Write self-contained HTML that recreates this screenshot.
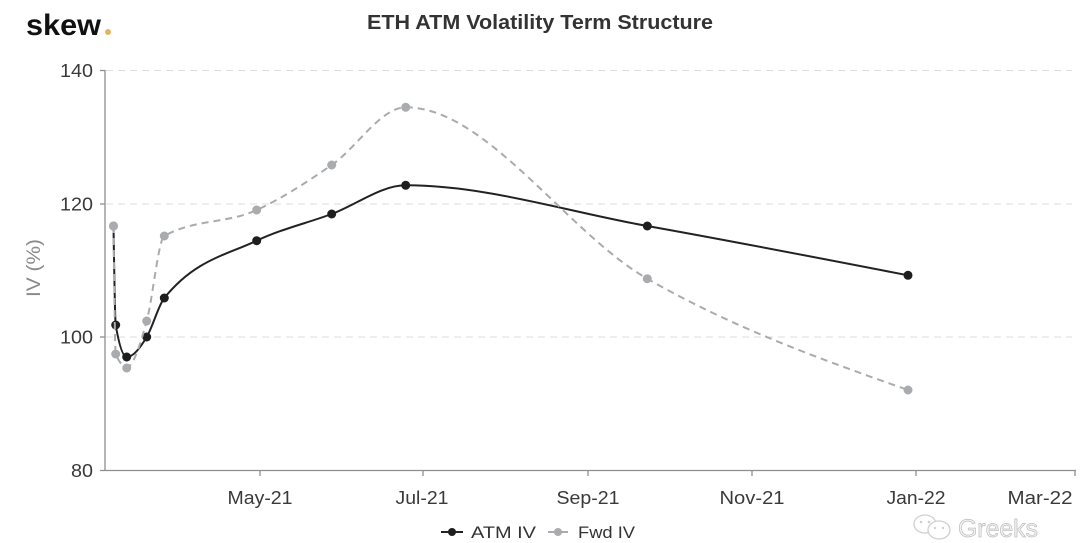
<!DOCTYPE html>
<html>
<head>
<meta charset="utf-8">
<style>
html,body{margin:0;padding:0;background:#fff;}
svg{display:block;}
</style>
</head>
<body>
<svg width="1080" height="543" viewBox="0 0 1080 543" xmlns="http://www.w3.org/2000/svg" font-family="'Liberation Sans', sans-serif">
  <rect width="1080" height="543" fill="#fff"/>
  <!-- logo -->
  <text x="26" y="35" font-size="30" font-weight="bold" fill="#111" textLength="75" lengthAdjust="spacingAndGlyphs">skew</text>
  <circle cx="108" cy="32" r="3" fill="#e3b45c"/>
  <!-- title -->
  <text x="540" y="29" font-size="20" font-weight="bold" fill="#333" text-anchor="middle" textLength="346" lengthAdjust="spacingAndGlyphs">ETH ATM Volatility Term Structure</text>

  <!-- grid -->
  <g stroke="#dedede" stroke-width="1" stroke-dasharray="7,5">
    <line x1="106" y1="70.5" x2="1072" y2="70.5"/>
    <line x1="106" y1="204" x2="1072" y2="204"/>
    <line x1="106" y1="337" x2="1072" y2="337"/>
  </g>
  <!-- axes -->
  <g stroke="#8e8e8e" stroke-width="1.3">
    <line x1="105" y1="70" x2="105" y2="470.5"/>
    <line x1="100" y1="470.5" x2="1076" y2="470.5"/>
    <line x1="100" y1="70.5" x2="105" y2="70.5"/>
    <line x1="100" y1="204" x2="105" y2="204"/>
    <line x1="100" y1="337" x2="105" y2="337"/>
    <line x1="260" y1="470" x2="260" y2="476"/>
    <line x1="423" y1="470" x2="423" y2="476"/>
    <line x1="588" y1="470" x2="588" y2="476"/>
    <line x1="752" y1="470" x2="752" y2="476"/>
    <line x1="916" y1="470" x2="916" y2="476"/>
    <line x1="1075" y1="470" x2="1075" y2="476"/>
  </g>
  <!-- y tick labels -->
  <g font-size="18" fill="#3a3a3a" text-anchor="end">
    <text x="93" y="77" textLength="33" lengthAdjust="spacingAndGlyphs">140</text>
    <text x="93" y="210.5" textLength="33" lengthAdjust="spacingAndGlyphs">120</text>
    <text x="93" y="343.5" textLength="33" lengthAdjust="spacingAndGlyphs">100</text>
    <text x="93" y="477" textLength="22" lengthAdjust="spacingAndGlyphs">80</text>
  </g>
  <!-- y axis title -->
  <text transform="translate(40,268) rotate(-90)" font-size="19" fill="#8a8a8a" text-anchor="middle" textLength="58" lengthAdjust="spacingAndGlyphs">IV (%)</text>
  <!-- x tick labels -->
  <g font-size="18" fill="#3a3a3a" text-anchor="middle">
    <text x="260" y="504" textLength="65" lengthAdjust="spacingAndGlyphs">May-21</text>
    <text x="422" y="504" textLength="53" lengthAdjust="spacingAndGlyphs">Jul-21</text>
    <text x="588" y="504" textLength="63" lengthAdjust="spacingAndGlyphs">Sep-21</text>
    <text x="752" y="504" textLength="65" lengthAdjust="spacingAndGlyphs">Nov-21</text>
    <text x="916" y="504" textLength="59" lengthAdjust="spacingAndGlyphs">Jan-22</text>
    <text x="1040" y="504" textLength="65" lengthAdjust="spacingAndGlyphs">Mar-22</text>
  </g>

  <!-- ATM IV (black) -->
  <path fill="none" stroke="#222" stroke-width="2" d="M113.5,226 C114.23,273.4 114.97,320.7 115.7,325 C119.37,346.3 123.03,357 126.7,357 C133.37,357 140.03,348 146.7,337 C152.57,327.3 158.43,305.3 164.3,298 C195.1,259.8 225.9,255.3 256.7,240.7 C281.7,228.85 306.7,223.3 331.7,214 C356.37,204.8 381.03,185.3 405.7,185.3 C486.23,185.3 566.77,211.6 647.3,226 C734.2,241.5 821.1,258.4 908,275.3"/>
  <g fill="#1e1e1e">
    <circle cx="115.7" cy="325" r="4.5"/>
    <circle cx="126.7" cy="357" r="4.5"/>
    <circle cx="146.7" cy="337" r="4.5"/>
    <circle cx="164.3" cy="298" r="4.5"/>
    <circle cx="256.7" cy="240.7" r="4.5"/>
    <circle cx="331.7" cy="214" r="4.5"/>
    <circle cx="405.7" cy="185.3" r="4.5"/>
    <circle cx="647.3" cy="226" r="4.5"/>
    <circle cx="908" cy="275.3" r="4.5"/>
  </g>

  <!-- Fwd IV (gray dashed) -->
  <path fill="none" stroke="#a9abae" stroke-width="2" stroke-dasharray="7,5" d="M113.5,226 C114.23,289.1 114.97,352.3 115.7,354 C119.37,362.7 123.03,367 126.7,367 C133.37,367 140.03,345.3 146.7,321 C152.57,299.6 158.43,239.3 164.3,236 C195.1,218.7 225.9,224.1 256.7,210 C281.7,198.6 306.7,182.3 331.7,165 C356.37,148 381.03,107.3 405.7,107.3 C486.23,107.3 566.77,232.5 647.3,278.7 C734.2,328.5 821.1,359.3 908,390"/>
  <g fill="#a9abae">
    <circle cx="113.5" cy="226" r="4.6"/>
    <circle cx="115.7" cy="354" r="4.5"/>
    <circle cx="126.7" cy="368" r="4.5"/>
    <circle cx="146.7" cy="321" r="4.5"/>
    <circle cx="164.3" cy="236" r="4.5"/>
    <circle cx="256.7" cy="210" r="4.5"/>
    <circle cx="331.7" cy="165" r="4.5"/>
    <circle cx="405.7" cy="107.3" r="4.5"/>
    <circle cx="647.3" cy="278.7" r="4.5"/>
    <circle cx="908" cy="390" r="4.5"/>
  </g>

  <!-- legend -->
  <line x1="441" y1="532" x2="463" y2="532" stroke="#222" stroke-width="2"/>
  <circle cx="452" cy="532" r="4" fill="#1e1e1e"/>
  <text x="471" y="538" font-size="17" fill="#333" textLength="65" lengthAdjust="spacingAndGlyphs">ATM IV</text>
  <line x1="548" y1="532" x2="568" y2="532" stroke="#a9abae" stroke-width="2"/>
  <circle cx="558" cy="532" r="4" fill="#a9abae"/>
  <text x="578" y="538" font-size="17" fill="#333" textLength="57" lengthAdjust="spacingAndGlyphs">Fwd IV</text>

  <!-- watermark -->
  <g fill="none" stroke="#cfcfcf" stroke-width="1.3">
    <ellipse cx="925" cy="524" rx="11" ry="9"/>
    <ellipse cx="939" cy="530" rx="11" ry="9" fill="#fff"/>
  </g>
  <g fill="#cfcfcf">
    <circle cx="921" cy="522" r="1.3"/>
    <circle cx="929" cy="522" r="1.3"/>
    <circle cx="935" cy="528" r="1.2"/>
    <circle cx="943" cy="528" r="1.2"/>
  </g>
  <text x="958" y="537" font-size="25" fill="#f2f2f2" stroke="#bcbcbc" stroke-width="0.7" textLength="80" lengthAdjust="spacingAndGlyphs">Greeks</text>
</svg>
</body>
</html>
